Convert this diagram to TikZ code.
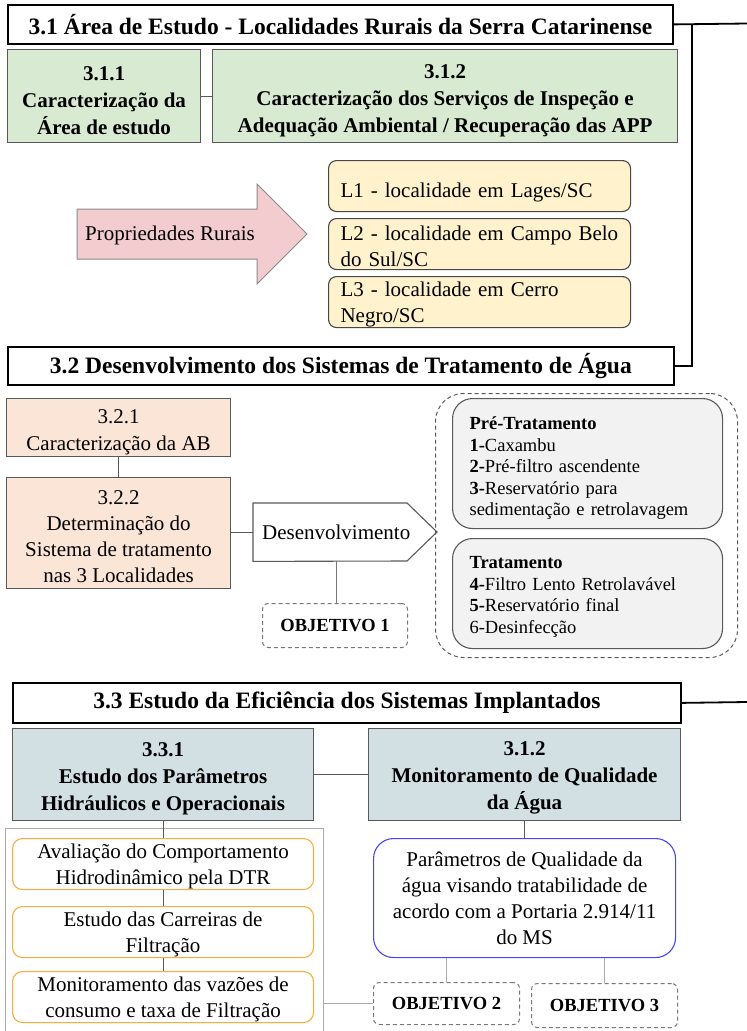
\documentclass[tikz,border=0pt]{standalone}
\usepackage{fontspec}
\setmainfont{Liberation Serif}

\definecolor{edgegray}{RGB}{89,89,89}
\definecolor{linegray}{RGB}{120,120,120}
\definecolor{lightline}{RGB}{170,170,170}
\definecolor{greenfill}{RGB}{217,234,211}
\definecolor{pinkfill}{RGB}{242,204,206}
\definecolor{creamfill}{RGB}{255,242,204}
\definecolor{peachfill}{RGB}{251,229,214}
\definecolor{panelfill}{RGB}{242,242,242}
\definecolor{tealfill}{RGB}{210,224,228}
\definecolor{orangeedge}{RGB}{250,172,60}
\definecolor{blueedge}{RGB}{70,70,245}

\newcommand\FTitle{\fontsize{23.5}{28}\selectfont\bfseries}
\newcommand\FHead{\fontsize{21}{27}\selectfont\bfseries}
\newcommand\FBody{\fontsize{21}{26}\selectfont}
\newcommand\FList{\fontsize{18.5}{21.5}\selectfont}
\newcommand\FObj{\fontsize{18.5}{22}\selectfont\bfseries}
% invisible strut that pushes a text block down inside its box
\newcommand\lift[1]{\rule{0pt}{#1pt}}

\begin{document}
\begin{tikzpicture}[x=1pt,y=-1pt,
  base/.style={anchor=north west, inner sep=0pt, align=center},
  titlebox/.style={base, draw=black, line width=1.8pt, fill=white, font=\FTitle},
  headbox/.style={base, draw=edgegray, line width=1.1pt, font=\FHead},
  bodybox/.style={base, draw=edgegray, line width=1.1pt, font=\FBody},
  placebox/.style={base, draw=edgegray!80!black, line width=1.1pt, fill=creamfill,
    rounded corners=8pt, font=\FBody, align=left, inner xsep=12pt, text width=278pt},
  panel/.style={base, draw=edgegray, line width=1.1pt, fill=panelfill,
    rounded corners=20pt, font=\FList, align=left, inner xsep=17pt, text width=236pt},
  stepbox/.style={base, draw=orangeedge, line width=1.1pt, rounded corners=10pt,
    font=\FBody, minimum width=301pt, minimum height=51pt},
  goal/.style={base, draw=linegray, line width=1pt, dash pattern=on 4pt off 3pt,
    rounded corners=6pt, font=\FObj},
  link/.style={draw=edgegray, line width=1.1pt},
  thinlink/.style={draw=lightline, line width=1.1pt},
  spine/.style={draw=black, line width=1.8pt},
]
\useasboundingbox (0,0) rectangle (747,1031);

% ---------- 3.1 ----------
\node[titlebox, minimum width=665pt, minimum height=39pt] (t31) at (7,4)
  {3.1 Área de Estudo - Localidades Rurais da Serra Catarinense};
\node[headbox, fill=greenfill, minimum width=193pt, minimum height=93pt] (s311) at (7,49)
  {\lift{22.5}3.1.1\\Caracterização da\\Área de estudo};
\node[headbox, fill=greenfill, minimum width=465pt, minimum height=93pt] (s312) at (212,49)
  {\lift{22.5}3.1.2\\Caracterização dos Serviços de Inspeção e\\Adequação Ambiental / Recuperação das APP};
\draw[link] (s311) -- (s312);

% big arrow towards the three localities
\fill[pinkfill, draw=edgegray!70, line width=1pt]
  (77,209) -- (257,209) -- (257,184) -- (307,234) -- (257,284) -- (257,259) -- (77,259) -- cycle;
\node[font=\FBody, inner sep=0pt] (prop) at (170,235) {Propriedades Rurais};

\node[placebox, minimum height=51pt] (l1) at (328,160) {\lift{28}L1 - localidade em Lages/SC};
\node[placebox, minimum height=51pt] (l2) at (328,218) {\lift{19.5}L2 - localidade em Campo Belo\\do Sul/SC};
\node[placebox, minimum height=51pt] (l3) at (328,276) {\lift{19.5}L3 - localidade em Cerro\\Negro/SC};

% ---------- 3.2 ----------
\node[titlebox, minimum width=666pt, minimum height=38pt] (t32) at (7,346)
  {3.2 Desenvolvimento dos Sistemas de Tratamento de Água};
\coordinate (rim) at (747,23.5);
\coordinate (bend) at (692,23.5);
\draw[spine] (t31.east) -- (rim);
\draw[spine] (bend) |- (t32.east);

\node[bodybox, fill=peachfill, minimum width=224pt, minimum height=58pt, font=\fontsize{21}{27}\selectfont] (s321) at (6,398)
  {\lift{23}3.2.1\\Caracterização da AB};
\node[bodybox, fill=peachfill, minimum width=224pt, minimum height=111pt] (s322) at (6,477)
  {\lift{20.5}3.2.2\\Determinação do\\Sistema de tratamento\\nas 3 Localidades};
\draw[link] (s321) -- (s322);

\node[base, font=\FBody, minimum width=166pt, minimum height=58pt] (dev) at (253,503) {Desenvolvimento};
\draw[draw=edgegray, line width=1.1pt]
  (dev.north west) -- ++(154,0) -- ++(30,29) -- ++(-30,29) -- (dev.south west) -- cycle;
\draw[link] (s322.east |- dev.west) -- (dev.west);

\node[goal, minimum width=145pt, minimum height=44pt] (obj1) at (262,603) {OBJETIVO 1};
\draw[thinlink, draw=linegray] (dev.south) -- (dev.south |- obj1.north);

\node[base, draw=edgegray, line width=1pt, dash pattern=on 4pt off 3pt, rounded corners=28pt,
  minimum width=302pt, minimum height=264pt] (group) at (435,393) {};
\node[panel, minimum height=130pt] (pre) at (452,398)
  {\lift{22.6}\textbf{Pré-Tratamento}\\\textbf{1-}Caxambu\\\textbf{2-}Pré-filtro ascendente\\\textbf{3-}Reservatório para\\sedimentação e retrolavagem};
\node[panel, minimum height=110pt] (trat) at (452,538)
  {\lift{18.6}\textbf{Tratamento}\\\textbf{4-}Filtro Lento Retrolavável\\\textbf{5-}Reservatório final\\6-Desinfecção};

% ---------- 3.3 ----------
\node[titlebox, minimum width=668pt, minimum height=40pt] (t33) at (12,682)
  {3.3 Estudo da Eficiência dos Sistemas Implantados};
\coordinate (rim3) at (747,702);
\draw[spine] (t33.east) -- (rim3);

\node[headbox, fill=tealfill, minimum width=301pt, minimum height=92pt] (s331) at (12,728)
  {\lift{21.5}3.3.1\\Estudo dos Parâmetros\\Hidráulicos e Operacionais};
\node[headbox, fill=tealfill, minimum width=312pt, minimum height=92pt] (s332) at (368,728)
  {\lift{21.5}3.1.2\\Monitoramento de Qualidade\\da Água};
\draw[link] (s331) -- (s332);

\node[base, draw=lightline, line width=1pt, minimum width=318pt, minimum height=215pt] (tray) at (5,828) {};
\node[stepbox] (a1) at (12,838) {\lift{19.3}Avaliação do Comportamento\\Hidrodinâmico pela DTR};
\node[stepbox] (a2) at (12,906) {\lift{19.3}Estudo das Carreiras de\\Filtração};
\node[stepbox] (a3) at (12,971) {\lift{19.3}Monitoramento das vazões de\\consumo e taxa de Filtração};
\draw[link] (s331) -- (a1);
\draw[link] (a1) -- (a2);
\draw[link] (a2) -- (a3);

\node[base, draw=blueedge, line width=1.1pt, rounded corners=20pt, font=\FBody,
  minimum width=302pt, minimum height=119pt] (quality) at (373,838)
  {Parâmetros de Qualidade da\\água visando tratabilidade de\\acordo com a Portaria 2.914/11\\do MS};
\draw[link] (s332) -- (quality);

\node[goal, minimum width=146pt, minimum height=42pt] (obj2) at (373,982) {OBJETIVO 2};
\node[goal, minimum width=146pt, minimum height=44pt] (obj3) at (531,983) {OBJETIVO 3};
\draw[thinlink] (obj2.north) -- (obj2.north |- quality.south);
\draw[thinlink] (obj3.north) -- (obj3.north |- quality.south);
\draw[thinlink] (tray.east |- obj2.west) -- (obj2.west);
\end{tikzpicture}
\end{document}
